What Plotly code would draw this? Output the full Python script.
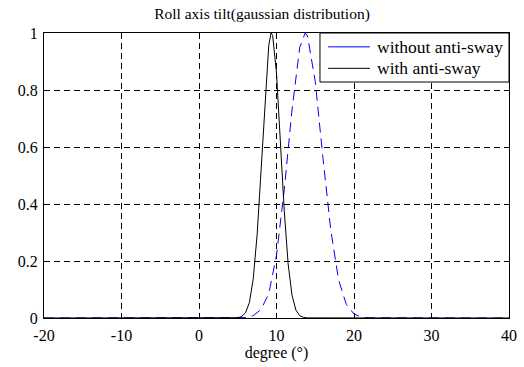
import plotly.graph_objects as go

# Degree values and normalized distribution heights
x_without = [-20, -4, 5, 6, 7, 8, 9, 10, 11, 12, 13, 13.7, 14, 15, 16, 17, 18, 19, 20, 21, 22, 40]
y_without = [0, 0, 0.0005, 0.0016, 0.008, 0.03, 0.085, 0.22, 0.45, 0.73, 0.95, 1.0, 0.99, 0.83, 0.56, 0.31, 0.135, 0.048, 0.014, 0.003, 0.0006, 0]

x_with = [-20, 4, 5, 5.5, 6, 6.5, 7, 7.5, 8, 8.5, 9, 9.3, 9.5, 10, 10.5, 11, 11.5, 12, 12.5, 13, 13.5, 14, 40]
y_with = [0, 0, 0.001, 0.005, 0.018, 0.054, 0.138, 0.293, 0.52, 0.772, 0.957, 1.0, 0.992, 0.859, 0.622, 0.376, 0.19, 0.08, 0.028, 0.008, 0.002, 0.0004, 0]

x_ticks = [-20, -10, 0, 10, 20, 30, 40]
y_ticks = [0, 0.2, 0.4, 0.6, 0.8, 1]
y_tick_labels = ["0", "0.2", "0.4", "0.6", "0.8", "1"]

series_names = ["without anti-sway", "with anti-sway"]

FONT = "Liberation Serif, Times New Roman, serif"
BLUE = "#0000FF"

fig = go.Figure()
fig.add_trace(go.Scatter(x=x_without, y=y_without, mode="lines", name=series_names[0],
                         showlegend=False, line=dict(color=BLUE, width=1, dash="10px,6px")))
fig.add_trace(go.Scatter(x=x_with, y=y_with, mode="lines", name=series_names[1],
                         showlegend=False, line=dict(color="#000000", width=1)))

axis_common = dict(showline=True, linecolor="black", linewidth=1, mirror="ticks",
                   ticks="inside", ticklen=4, tickcolor="black", automargin=False,
                   showgrid=True, gridcolor="black", griddash="6px,4px", gridwidth=1,
                   zeroline=False, tickfont=dict(family=FONT, size=16, color="black"))

# Legend drawn as a boxed panel (MATLAB style) in the top-right corner of the axes
legend_box = dict(type="rect", xref="paper", yref="paper", x0=0.5935, x1=1.0, y0=0.828, y1=1.0,
                  line=dict(color="black", width=1), fillcolor="white", layer="above")
legend_lines = [
    dict(type="line", xref="paper", yref="paper", x0=0.611, x1=0.701, y0=0.952, y1=0.952,
         line=dict(color="#5555FF", width=1.5), layer="above"),
    dict(type="line", xref="paper", yref="paper", x0=0.611, x1=0.701, y0=0.876, y1=0.876,
         line=dict(color="black", width=1), layer="above"),
]
legend_texts = [
    dict(xref="paper", yref="paper", x=0.712, y=0.952, xanchor="left", yanchor="middle",
         text=series_names[0], showarrow=False, font=dict(family=FONT, size=17.5, color="black")),
    dict(xref="paper", yref="paper", x=0.712, y=0.876, xanchor="left", yanchor="middle",
         text=series_names[1], showarrow=False, font=dict(family=FONT, size=17.5, color="black")),
]

fig.update_layout(
    width=524, height=367,
    margin=dict(l=44, r=15, t=33, b=49),
    paper_bgcolor="white", plot_bgcolor="white",
    title=dict(text="Roll axis tilt(gaussian distribution)", x=0.5, xanchor="center",
               y=1 - 14 / 367, yanchor="middle", font=dict(family=FONT, size=15.5, color="black")),
    xaxis=dict(range=[-20, 40], tickvals=x_ticks, ticktext=[str(v) for v in x_ticks],
               ticklabelstandoff=3,
               title=dict(text="degree (°)", font=dict(family=FONT, size=16, color="black"), standoff=2),
               **axis_common),
    yaxis=dict(range=[0, 1], tickvals=y_ticks, ticktext=y_tick_labels, ticklabelstandoff=2,
               **axis_common),
    shapes=[legend_box] + legend_lines,
    annotations=legend_texts,
    showlegend=False,
)

fig.write_html("out.html", config={"displayModeBar": False},
               post_script="document.body.style.margin='0';document.body.style.overflow='hidden';")
